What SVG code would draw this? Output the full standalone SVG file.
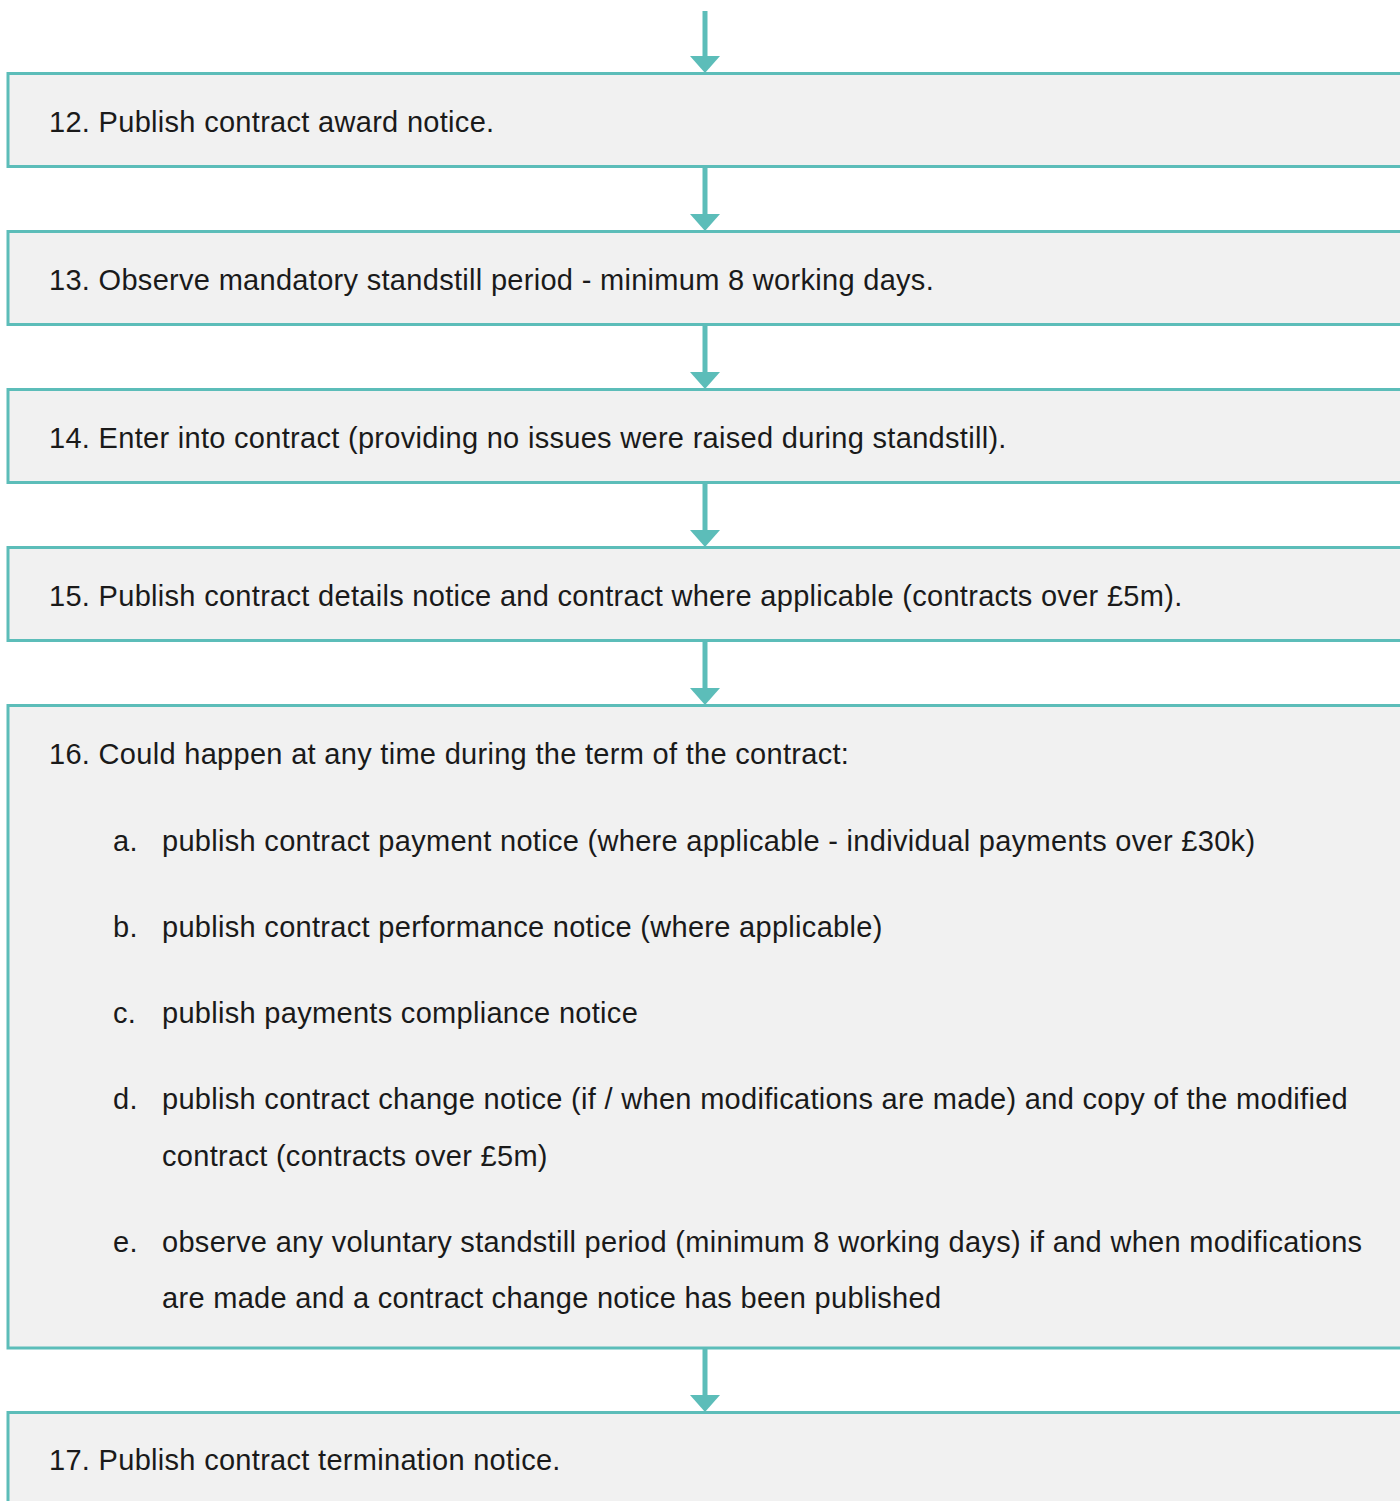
<svg xmlns="http://www.w3.org/2000/svg" width="1400" height="1501" viewBox="0 0 1400 1501">
<style>
.box{fill:#f1f1f1;stroke:#5cbdb9;stroke-width:3}
.t{font-family:"Liberation Sans",Arial,sans-serif;font-size:29px;letter-spacing:0.3px;fill:#1a1a1a}
.ln{stroke:#5cbdb9;stroke-width:5;fill:none}
.hd{fill:#5cbdb9}
</style>
<rect width="1400" height="1501" fill="#ffffff"/>
<g id="connectors">
<line class="ln" x1="705" y1="11" x2="705" y2="58"/><polygon class="hd" points="690,56 720,56 705,73"/>
<line class="ln" x1="705" y1="166" x2="705" y2="216"/><polygon class="hd" points="690,214 720,214 705,231"/>
<line class="ln" x1="705" y1="324" x2="705" y2="374"/><polygon class="hd" points="690,372 720,372 705,389"/>
<line class="ln" x1="705" y1="482" x2="705" y2="532"/><polygon class="hd" points="690,530 720,530 705,547"/>
<line class="ln" x1="705" y1="640" x2="705" y2="690"/><polygon class="hd" points="690,688 720,688 705,705"/>
<line class="ln" x1="705" y1="1348" x2="705" y2="1397"/><polygon class="hd" points="690,1395 720,1395 705,1412"/>
</g>
<g id="n12"><rect class="box" x="8" y="73.5" width="1410" height="93"/><text class="t" x="49" y="131.5">12. Publish contract award notice.</text></g>
<g id="n13"><rect class="box" x="8" y="231.5" width="1410" height="93"/><text class="t" x="49" y="289.5">13. Observe mandatory standstill period - minimum 8 working days.</text></g>
<g id="n14"><rect class="box" x="8" y="389.5" width="1410" height="93"/><text class="t" x="49" y="447.5">14. Enter into contract (providing no issues were raised during standstill).</text></g>
<g id="n15"><rect class="box" x="8" y="547.5" width="1410" height="93"/><text class="t" x="49" y="605.5">15. Publish contract details notice and contract where applicable (contracts over £5m).</text></g>
<g id="n16"><rect class="box" x="8" y="705.5" width="1410" height="642.5"/>
<text class="t" x="49" y="763.5">16. Could happen at any time during the term of the contract:</text>
<text class="t" x="113" y="850.5">a.</text><text class="t" x="162" y="850.5">publish contract payment notice (where applicable - individual payments over £30k)</text>
<text class="t" x="113" y="936.5">b.</text><text class="t" x="162" y="936.5">publish contract performance notice (where applicable)</text>
<text class="t" x="113" y="1022.5">c.</text><text class="t" x="162" y="1022.5">publish payments compliance notice</text>
<text class="t" x="113" y="1108.5">d.</text><text class="t" x="162" y="1108.5">publish contract change notice (if / when modifications are made) and copy of the modified</text>
<text class="t" x="162" y="1165.5">contract (contracts over £5m)</text>
<text class="t" x="113" y="1251.5">e.</text><text class="t" x="162" y="1251.5">observe any voluntary standstill period (minimum 8 working days) if and when modifications</text>
<text class="t" x="162" y="1307.5">are made and a contract change notice has been published</text>
</g>
<g id="n17"><rect class="box" x="8" y="1412.5" width="1410" height="120"/><text class="t" x="49" y="1469.5">17. Publish contract termination notice.</text></g>
</svg>
